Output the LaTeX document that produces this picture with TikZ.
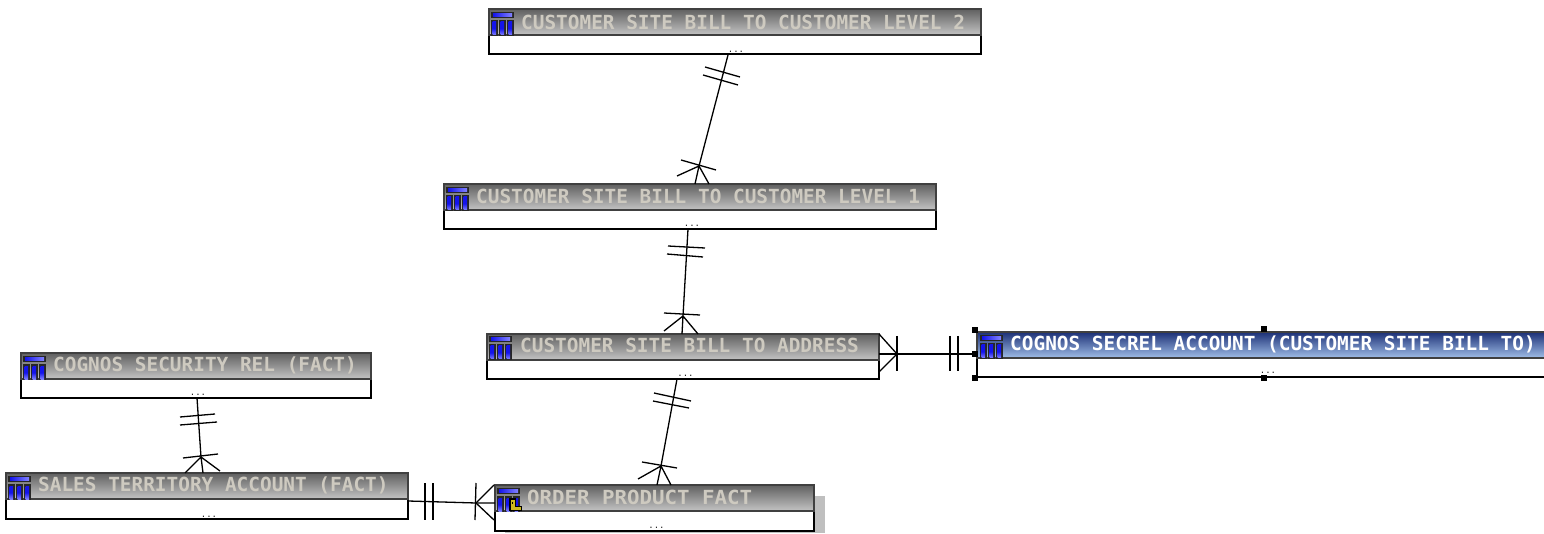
\documentclass[tikz,border=0pt]{standalone}
\usepackage{fontspec}
\newfontfamily\titlefont{DejaVu Sans Mono}
\setmainfont{Liberation Sans}
\definecolor{ttl}{RGB}{206,202,192}
\definecolor{gtop}{RGB}{96,96,96}
\definecolor{gbot}{RGB}{196,196,196}
\definecolor{btop}{RGB}{28,48,118}
\definecolor{bbot}{RGB}{160,190,232}
\definecolor{iblue}{RGB}{20,20,235}
\definecolor{ilight}{RGB}{130,130,255}
\definecolor{keyy}{RGB}{205,185,30}
\tikzset{
  x=1pt,y=-1pt,
  bodybox/.style={draw=black,line width=1.3pt,fill=white,anchor=north west,inner sep=0pt,outer sep=0pt},
  hdrgrey/.style={draw=black!75,line width=1.3pt,top color=gtop,bottom color=gbot,anchor=north west,inner sep=0pt,outer sep=0pt},
  hdrblue/.style={draw=black!75,line width=1.3pt,top color=btop,bottom color=bbot,anchor=north west,inner sep=0pt,outer sep=0pt},
  ttlnode/.style={anchor=west,inner sep=0pt,text=ttl,font=\titlefont\bfseries\fontsize{19.4}{20}\selectfont},
  ttlsel/.style={ttlnode,text=white},
  dotsnode/.style={inner sep=0pt,font=\titlefont\fontsize{9}{9}\selectfont,text=black!85},
  erline/.style={draw=black,line width=1.3pt},
  handle/.style={fill=black,draw=none,minimum size=6pt,inner sep=0pt},
}
\newcommand{\tblicon}[2]{%
  \begin{scope}[shift={(#1,#2)}]
    \fill[black!85] (0,0) rectangle (23,6);
    \fill[left color=iblue,right color=ilight] (2,1.5) rectangle (21,4.5);
    \foreach \k in {0,8,16}{
      \fill[black!85] (\k,8) rectangle (\k+7,24);
      \fill[top color=iblue,bottom color=ilight,middle color=iblue] (\k+1.7,10) rectangle (\k+5,23);
    }
  \end{scope}}
\newcommand{\keyicon}[2]{%
  \begin{scope}[shift={(#1,#2)}]
    \fill[black] (0,0) rectangle (7,13);
    \fill[black] (0,8) rectangle (13,13);
    \fill[keyy] (1.5,1.5) rectangle (5.5,12);
    \fill[keyy] (5,9) rectangle (11.5,12);
    \fill[black] (3,4) rectangle (4,6);
  \end{scope}}
% name, x, y, width, body height total, header height, header style
\newcommand{\entity}[7]{%
  \node[bodybox,minimum width=#4pt,minimum height=#5pt] (#1) at (#2,#3) {};
  \node[#7,minimum width=#4pt,minimum height=#6pt] (#1h) at (#2,#3) {};
}
\begin{document}
\begin{tikzpicture}
\useasboundingbox (0,0) rectangle (1544,534);
\clip (0,0) rectangle (1544,534);
\fill[white] (0,0) rectangle (1544,534);

% shadow of the order box
\fill[black!25] (505,496) rectangle (825,533);

\entity{ttwo}{489}{9}{492}{45}{26}{hdrgrey}
\entity{tone}{444}{184}{492}{45}{26}{hdrgrey}
\entity{addr}{487}{334}{392}{45}{26}{hdrgrey}
\entity{secrel}{977}{332}{600}{45}{26}{hdrblue}
\entity{secur}{21}{353}{350}{45}{26}{hdrgrey}
\entity{sales}{6}{473}{402}{46}{26}{hdrgrey}
\entity{order}{495}{485}{319}{46}{26}{hdrgrey}

\tblicon{491}{12}
\tblicon{446}{187}
\tblicon{489}{336}
\tblicon{980}{335}
\tblicon{23}{356}
\tblicon{8}{476}
\tblicon{497}{488}
\keyicon{509}{498}

\node[ttlnode] (ttwot) at (521,22) {CUSTOMER SITE BILL TO CUSTOMER LEVEL 2};
\node[ttlnode] (tonet) at (476,196) {CUSTOMER SITE BILL TO CUSTOMER LEVEL 1};
\node[ttlnode] (addrt) at (520,345) {CUSTOMER SITE BILL TO ADDRESS};
\node[ttlsel] (secrelt) at (1010,344) {COGNOS SECREL ACCOUNT (CUSTOMER SITE BILL TO)};
\node[ttlnode] (secureT) at (53,365) {COGNOS SECURITY REL (FACT)};
\node[ttlnode] (salest) at (38,485) {SALES TERRITORY ACCOUNT (FACT)};
\node[ttlnode] (ordert) at (527,497) {\scalebox{1.07}[1]{ORDER PRODUCT FACT}};

\node[dotsnode] (ttwod) at (736,51.5) {...};
\node[dotsnode] (toned) at (692,226) {...};
\node[dotsnode] (addrd) at (685.5,375.5) {...};
\node[dotsnode] (secreld) at (1268,373) {...};
\node[dotsnode] (securd) at (198,395) {...};
\node[dotsnode] (salesd) at (209,516.5) {...};
\node[dotsnode] (orderd) at (656.5,527.5) {...};

% Connector A: level 2 -- level 1
\coordinate (a0) at (728,55);
\coordinate (aj) at (699,166);
\draw[erline] (a0) -- (aj);
\draw[erline] (705,67) -- (740,77) (703,75) -- (738,85);
\draw[erline] (681,160) -- (716,170);
\draw[erline] (aj) -- (677,176) (aj) -- (695,184) (aj) -- (709,184);

% Connector B: level 1 -- address
\coordinate (b0) at (688,229);
\coordinate (bj) at (683,316);
\draw[erline] (b0) -- (bj);
\draw[erline] (668,246) -- (705,248) (667,254) -- (703,257);
\draw[erline] (664,313) -- (700,315);
\draw[erline] (bj) -- (664,331) (bj) -- (682,334) (bj) -- (698,334);

% Connector C: address -- order
\coordinate (c0) at (677,379);
\coordinate (cj) at (661,466);
\draw[erline] (c0) -- (cj);
\draw[erline] (654,393) -- (691,401) (653,401) -- (689,408);
\draw[erline] (642,462) -- (677,468);
\draw[erline] (cj) -- (638,479) (cj) -- (657,485) (cj) -- (671,485);

% Connector D: sales -- order
\coordinate (d0) at (408,501);
\coordinate (dj) at (476,503);
\draw[erline] (d0) -- (dj) -- (495,503);
\draw[erline] (425,483) -- (425,520) (433,483) -- (433,520);
\draw[erline] (476,483) -- (475,520);
\draw[erline] (dj) -- (494,485) (dj) -- (494,520);

% Connector E: address -- secrel
\coordinate (e0) at (879,354);
\coordinate (ej) at (897,354);
\draw[erline] (e0) -- (ej) -- (977,354);
\draw[erline] (897,336) -- (897,371);
\draw[erline] (950,336) -- (950,371) (958,336) -- (958,371);
\draw[erline] (ej) -- (879,334) (ej) -- (879,372);

% Connector F: security -- sales
\coordinate (f0) at (197,398);
\coordinate (fj) at (201,457);
\draw[erline] (f0) -- (fj);
\draw[erline] (180,417) -- (215,414) (180,425) -- (217,422);
\draw[erline] (183,458) -- (218,454);
\draw[erline] (fj) -- (185,473) (fj) -- (203,473) (fj) -- (220,471);

% Selection handles
\node[handle] (h1) at (975,330) {};
\node[handle] (h2) at (975,354) {};
\node[handle] (h3) at (975,378) {};
\node[handle] (h4) at (1264,329) {};
\node[handle] (h5) at (1264,378) {};
\end{tikzpicture}
\end{document}
